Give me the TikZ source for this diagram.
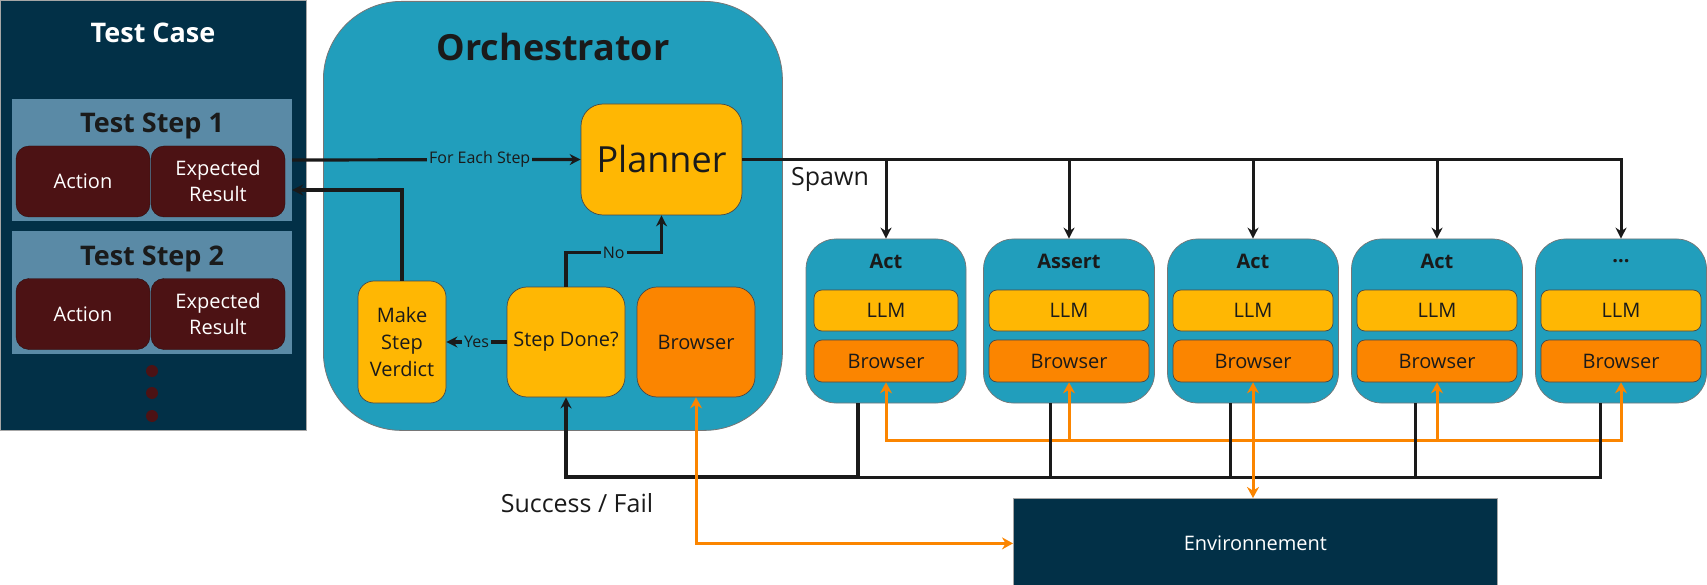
\documentclass[tikz,border=0pt]{standalone}
\usepackage{fontspec}
\setmainfont{Open Sans}
\usepackage{xcolor}
\usepackage{tikz}
\usetikzlibrary{arrows.meta}

\definecolor{navy}{HTML}{023047}
\definecolor{orchblue}{HTML}{219EBC}
\definecolor{amber}{HTML}{FFB703}
\definecolor{tangerine}{HTML}{FB8500}
\definecolor{stepgrey}{HTML}{5A8AA6}
\definecolor{wine}{HTML}{4C1214}
\definecolor{ink}{HTML}{1A1A1A}

\newcommand{\fs}[2]{\fontsize{#1}{#2}\selectfont}
\newcommand{\moreagents}{...}

\begin{document}
\begin{tikzpicture}[x=1pt, y=-1pt,
	panel/.style={fill=navy, draw=gray!70, line width=0.8pt},
	stepbox/.style={fill=stepgrey, minimum width=280, minimum height=122},
	cell/.style={fill=wine, draw=wine!60!black, rounded corners=13pt, text=white, align=center, minimum width=134, minimum height=71, font=\fs{20}{26}},
	card/.style={draw=ink!80, line width=0.7pt, align=center, text=ink, font=\fs{20}{27}},
	llmbox/.style={card, fill=amber},
	webbox/.style={card, fill=tangerine},
	agent/.style={draw=ink!60, line width=0.7pt, fill=orchblue, rounded corners=30pt, minimum height=164},
	flow/.style={-{Stealth[length=11pt, width=11pt]}, line width=3.2pt, draw=ink},
	drop/.style={line width=3pt, draw=ink},
	wire/.style={line width=3pt, draw=tangerine},
	both/.style={{Stealth[length=11pt, width=12pt]}-{Stealth[length=11pt, width=12pt]}},
	tag/.style={fill=orchblue, text=ink, font=\fs{16}{18}, inner sep=2pt}]
	\useasboundingbox (0,0) rectangle (1707,585);

	\begin{scope}
		\node [panel, anchor=north west, minimum width=306, minimum height=430] (testcase) at (0,0) {};
		\node [text=white, font=\bfseries\fs{27}{30}] (tctitle) at (153,33) {Test Case};

		\node [stepbox] (step1) at (152,160) {};
		\node [text=ink, font=\bfseries\fs{27}{30}] (step1title) at (152,126) {Test Step 1};
		\node [cell] (action1) at (83,181.5) {Action};
		\node [cell] (expected1) at (218,181.5) {Expected\\Result};

		\node [stepbox] (step2) at (152,292.5) {};
		\node [text=ink, font=\bfseries\fs{27}{30}] (step2title) at (152,259) {Test Step 2};
		\node [cell] (action2) at (83,314) {Action};
		\node [cell] (expected2) at (218,314) {Expected\\Result};

		\foreach \y in {371,393,416}
			\fill [wine] (152,\y) circle (6pt);
	\end{scope}

	\begin{scope}
		\node [draw=ink!60, line width=0.8pt, fill=orchblue, rounded corners=78pt, anchor=north west, minimum width=459, minimum height=429] (orch) at (323,1) {};
		\node [text=ink, font=\bfseries\fs{36}{40}] (orchtitle) at (553,47) {Orchestrator};
		\node [llmbox, rounded corners=22pt, minimum width=161, minimum height=111, font=\fs{36}{40}] (planner) at (661.5,159.5) {Planner};
		\node [llmbox, rounded corners=16pt, minimum width=88, minimum height=122] (verdict) at (402,342) {Make\\Step\\Verdict};
		\node [llmbox, rounded corners=20pt, minimum width=118, minimum height=110] (done) at (566,342) {Step Done?};
		\node [webbox, rounded corners=20pt, minimum width=118, minimum height=110] (browser) at (696,342) {Browser};

		\draw [flow] (step1.east) -- node [tag, pos=0.65] {For Each Step} (planner.west);
		\draw [flow] (verdict.north) |- ([yshift=-30pt]step1.east);
		\draw [flow] (done.west) -- node [tag] {Yes} (verdict.east);
		\draw [flow] (done.north) -- ++(0,-34) -| node [tag, pos=0.25] {No} (planner.south);
	\end{scope}

	\begin{scope}
		\foreach \n/\cx/\w/\iw/\t in {1/886/160/144/Act, 2/1069/171/160/Assert, 3/1253/171/160/Act, 4/1437/171/160/Act, 5/1621/171/160/\moreagents} {
			\node [agent, minimum width=\w] (agent\n) at (\cx,321) {};
			\node [text=ink, font=\bfseries\fs{20}{22}] (role\n) at (\cx,261) {\t};
			\node [llmbox, rounded corners=8pt, minimum width=\iw, minimum height=41] (llm\n) at (\cx,310.5) {LLM};
			\node [webbox, rounded corners=8pt, minimum width=\iw, minimum height=42] (web\n) at (\cx,361) {Browser};
		}
		\node [text=ink, font=\fs{25}{28}] (spawn) at (830,179) {Spawn};
		\node [text=ink, font=\fs{25}{28}] (outcome) at (577,503) {Success / Fail};
		\node [panel, anchor=north west, minimum width=484, minimum height=90, text=white, font=\fs{20}{22}] (env) at (1013,498) {Environnement};
	\end{scope}

	\begin{scope}
		\draw [flow, line width=3pt] (planner.east) -| (agent5.north);
		\foreach \n in {1,2,3,4}
			\draw [flow, line width=3pt] (planner.east -| agent\n.north) -- (agent\n.north);

		\coordinate (hub) at (0,440);
		\draw [wire, both] (web1.south) |- (hub -| web5.south) -- (web5.south);
		\foreach \n in {2,4}
			\draw [wire, -{Stealth[length=11pt, width=12pt]}] (web\n.south |- hub) -- (web\n.south);

		\coordinate (bus) at (566,477);
		\foreach \n/\dx in {2/-19, 3/-23, 4/-22}
			\draw [drop] ([xshift=\dx pt]agent\n.south) -- ([xshift=\dx pt]agent\n.south |- bus);
		\draw [drop] ([xshift=-21pt]agent5.south) |- (bus);
		\draw [flow, line width=3.6pt] ([xshift=-28pt]agent1.south) |- (bus) -- (done.south);

		\draw [wire, both] (web3.south) -- (web3.south |- env.north);
		\draw [wire, both] (browser.south) |- (env.west);
	\end{scope}
\end{tikzpicture}
\end{document}
